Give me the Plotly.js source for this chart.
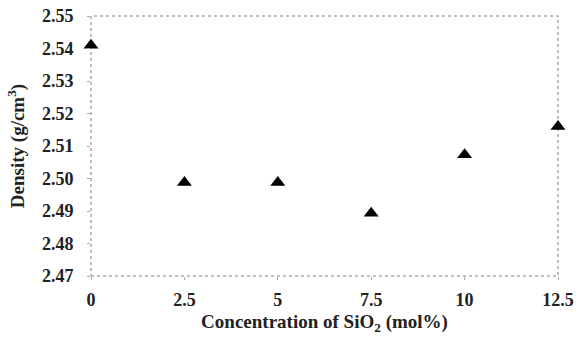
<!DOCTYPE html>
<html><head><meta charset="utf-8">
<script src="https://cdn.plot.ly/plotly-3.0.1.min.js"></script>
<style>html,body{margin:0;padding:0;background:#fff;}#chart{width:576px;height:344px;}</style>
</head><body><div id="chart"></div>
<script>
const concentration = [0, 2.5, 5, 7.5, 10, 12.5];
const density = [2.541, 2.4988, 2.4988, 2.4893, 2.5073, 2.516];
const xTickVals = [0, 2.5, 5, 7.5, 10, 12.5];
const xTickText = ['0', '2.5', '5', '7.5', '10', '12.5'];
const yTickVals = [2.47, 2.48, 2.49, 2.50, 2.51, 2.52, 2.53, 2.54, 2.55];
const yTickText = ['2.47', '2.48', '2.49', '2.50', '2.51', '2.52', '2.53', '2.54', '2.55'];

const fam = '"Liberation Serif", "Times New Roman", serif';
const tickFont = {family: fam, size: 18, color: '#222', weight: 'bold'};
const titleFont = {family: fam, size: 19, color: '#222', weight: 'bold'};
const trace = {
  x: concentration, y: density, type: 'scatter', mode: 'markers',
  marker: {symbol: 'triangle-up', size: 13, color: '#000'},
  cliponaxis: false, hoverinfo: 'skip'
};
const layout = {
  width: 576, height: 344,
  margin: {l: 91, r: 18, t: 16, b: 68},
  paper_bgcolor: '#fff', plot_bgcolor: '#fff',
  showlegend: false,
  font: {family: fam, size: 18, color: '#222'},
  xaxis: {
    range: [0, 12.5], tickvals: xTickVals, ticktext: xTickText,
    showgrid: false, zeroline: false, showline: false,
    ticks: 'outside', ticklen: 3, tickcolor: '#aaa', tickwidth: 1,
    ticklabelstandoff: 4,
    tickfont: tickFont,
    title: {text: 'Concentration of SiO<sub>2</sub> (mol%)', standoff: 6, font: titleFont}
  },
  yaxis: {
    range: [2.47, 2.55], tickvals: yTickVals, ticktext: yTickText,
    showgrid: false, zeroline: false, showline: false,
    ticks: 'outside', ticklen: 3, tickcolor: '#aaa', tickwidth: 1,
    ticklabelstandoff: 10,
    tickfont: tickFont,
    title: {text: 'Density (g/cm<sup>3</sup>)', standoff: 12, font: titleFont}
  },
  shapes: [{
    type: 'rect', xref: 'paper', yref: 'paper', x0: 0, x1: 1, y0: 0, y1: 1,
    line: {color: '#aaa', width: 1.5, dash: 'dot'}, layer: 'below'
  }]
};
Plotly.newPlot('chart', [trace], layout, {staticPlot: true, displayModeBar: false});
</script>
</body></html>
